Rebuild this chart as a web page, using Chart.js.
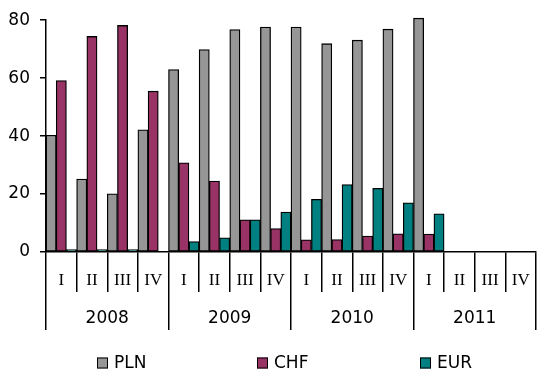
<!DOCTYPE html>
<html>
<head>
<meta charset="utf-8">
<script src="https://cdn.jsdelivr.net/npm/chart.js@4/dist/chart.umd.min.js"></script>
<style>
  html, body { margin: 0; padding: 0; background: #ffffff; }
  #wrap { width: 538px; height: 372px; position: relative; }
</style>
</head>
<body>
<div id="wrap"><canvas id="c" width="538" height="372"></canvas></div>
<script>
// ---- data ----
const quarters = ['I','II','III','IV','I','II','III','IV','I','II','III','IV','I','II','III','IV'];
const years = ['2008','2009','2010','2011'];
const seriesNames = ['PLN','CHF','EUR'];
const plnValues = [40.3, 25.2, 20.1, 42.2, 63.0, 69.9, 76.8, 77.6, 77.6, 71.9, 73.1, 76.9, 80.7, null, null, null];
const chfValues = [59.2, 74.4, 78.2, 55.5, 30.8, 24.5, 11.1, 8.1, 4.2, 4.3, 5.5, 6.3, 6.2, null, null, null];
const eurValues = [0.8, 0.8, 0.8, null, 3.6, 4.9, 11.1, 13.8, 18.2, 23.3, 22.0, 17.0, 13.2, null, null, null];
const yTicks = [0, 20, 40, 60, 80];

const colors = ['#969696', '#993366', '#008080'];
const sansFont = "'DejaVu Sans', Verdana, sans-serif";
const serifFont = "'Liberation Serif', 'Times New Roman', serif";

const legendPlugin = {
  id: 'customLegend',
  afterDraw(chart, args, opts) {
    const ctx = chart.ctx;
    ctx.save();
    ctx.font = '17px ' + sansFont;
    ctx.textBaseline = 'middle';
    ctx.textAlign = 'left';
    chart.data.datasets.forEach((ds, i) => {
      const bx = opts.xs[i];
      const cy = opts.y;
      const s = opts.box;
      ctx.fillStyle = ds.backgroundColor;
      ctx.fillRect(bx, cy - s / 2, s, s);
      ctx.strokeStyle = '#000';
      ctx.lineWidth = 1;
      ctx.strokeRect(bx + 0.5, cy - s / 2 + 0.5, s - 1, s - 1);
      ctx.fillStyle = '#000';
      ctx.fillText(ds.label, bx + s + 6, cy + 1);
    });
    ctx.restore();
  }
};

new Chart(document.getElementById('c'), {
  type: 'bar',
  data: {
    labels: quarters,
    datasets: [
      { label: seriesNames[0], data: plnValues, backgroundColor: colors[0] },
      { label: seriesNames[1], data: chfValues, backgroundColor: colors[1] },
      { label: seriesNames[2], data: eurValues, backgroundColor: colors[2] }
    ]
  },
  options: {
    responsive: false,
    animation: false,
    devicePixelRatio: 1,
    layout: { padding: { top: 19, right: 2, bottom: 42, left: 0 } },
    datasets: {
      bar: {
        borderColor: '#000000',
        borderWidth: 1.3,
        borderSkipped: false,
        categoryPercentage: 1.0,
        barPercentage: 1.0,
        clip: false
      }
    },
    plugins: {
      legend: { display: false },
      tooltip: { enabled: false },
      customLegend: { xs: [97, 257, 420], y: 363, box: 11 }
    },
    scales: {
      y: {
        min: 0,
        max: 80,
        afterBuildTicks: (scale) => { scale.ticks = yTicks.map(v => ({ value: v })); },
        afterFit: (scale) => { scale.width = 46; },
        ticks: { color: '#000', font: { family: sansFont, size: 17 }, padding: 10 },
        grid: { drawOnChartArea: false, drawTicks: true, tickLength: 6, color: '#000', lineWidth: 1.5 },
        border: { display: true, color: '#000', width: 1.5 }
      },
      x: {
        type: 'category',
        position: 'bottom',
        weight: 0,
        offset: true,
        afterFit: (scale) => { scale.height = 40; },
        ticks: { color: '#000', font: { family: serifFont, size: 17 }, padding: -22, autoSkip: false, maxRotation: 0, minRotation: 0 },
        grid: { offset: true, drawOnChartArea: false, drawTicks: true, tickLength: 40, color: '#000', lineWidth: 1.5 },
        border: { display: true, color: '#000', width: 1.5 }
      },
      x2: {
        type: 'category',
        axis: 'x',
        position: 'bottom',
        weight: 1,
        labels: years,
        offset: true,
        afterFit: (scale) => { scale.height = 38; },
        ticks: { color: '#000', font: { family: sansFont, size: 17 }, padding: -22, autoSkip: false, maxRotation: 0, minRotation: 0 },
        grid: { offset: true, drawOnChartArea: false, drawTicks: true, tickLength: 38, color: '#000', lineWidth: 1.5 },
        border: { display: false }
      }
    }
  },
  plugins: [legendPlugin]
});
</script>
</body>
</html>
